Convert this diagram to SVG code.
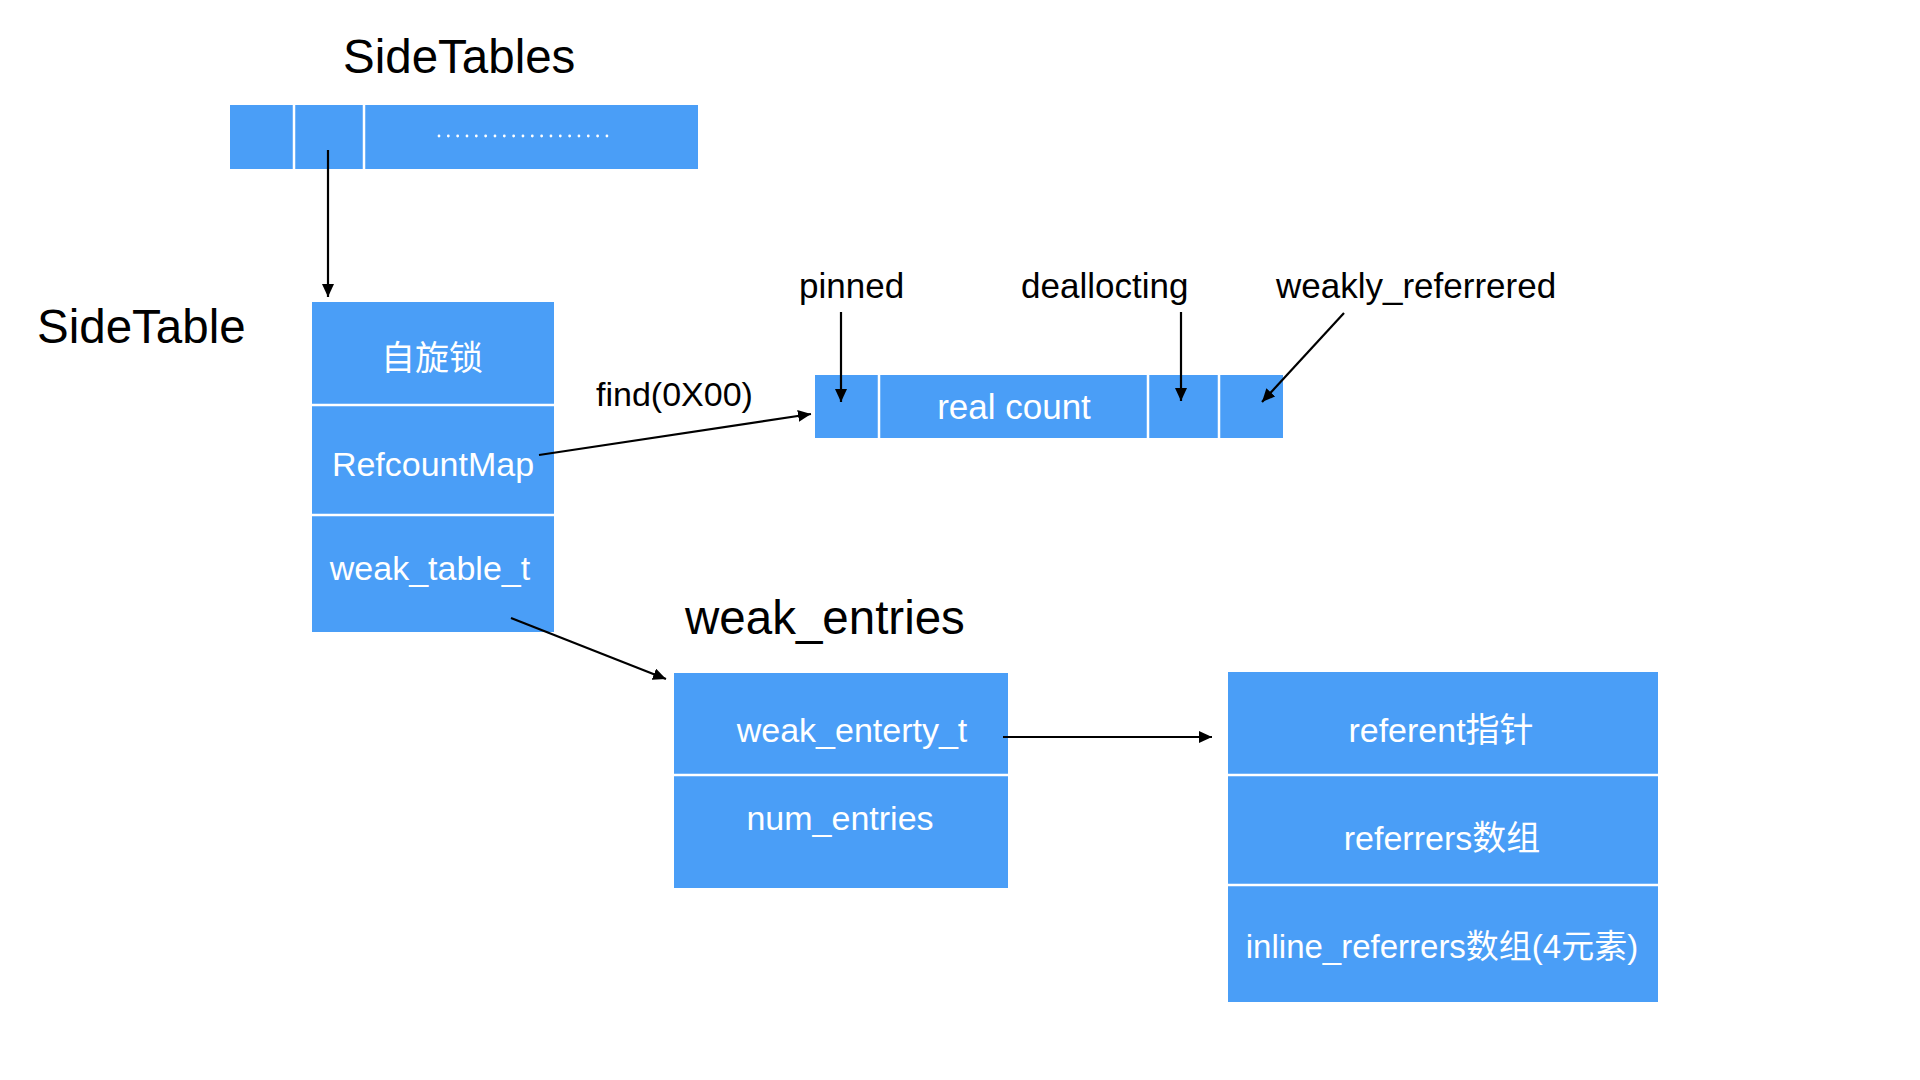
<svg xmlns="http://www.w3.org/2000/svg" width="1920" height="1080" viewBox="0 0 1920 1080">
  <style>
    .cell { fill: #4A9EF7; }
    .div { stroke: #FFFFFF; stroke-width: 2.5; }
    .title { font-family: "Liberation Sans", Arial, sans-serif; font-size: 47.5px; fill: #000000; }
    .lbl { font-family: "Liberation Sans", Arial, sans-serif; font-size: 35px; fill: #000000; }
    .in { font-family: "Liberation Sans", "Noto Sans CJK SC", sans-serif; font-size: 34px; fill: #FFFFFF; text-anchor: middle; }
    .conn { stroke: #000000; stroke-width: 2.2; fill: none; marker-end: url(#arrow); }
  </style>
  <defs>
    <marker id="arrow" markerUnits="userSpaceOnUse" markerWidth="14" markerHeight="12" refX="13" refY="6" orient="auto">
      <path d="M0,0 L13,6 L0,12 Z" fill="#000000"/>
    </marker>
  </defs>
  <rect width="1920" height="1080" fill="#FFFFFF"/>

  <g id="sidetables">
    <text class="title" x="343" y="73">SideTables</text>
    <rect class="cell" x="230" y="105" width="468" height="64"/>
    <line class="div" x1="294" y1="105" x2="294" y2="169"/>
    <line class="div" x1="364" y1="105" x2="364" y2="169"/>
    <line x1="439" y1="136" x2="607" y2="136" stroke="#FFFFFF" stroke-width="2.8" stroke-linecap="round" stroke-dasharray="0 9.33"/>
  </g>

  <g id="sidetable">
    <text class="title" x="37" y="343">SideTable</text>
    <rect class="cell" x="312" y="302" width="242" height="330"/>
    <line class="div" x1="312" y1="405" x2="554" y2="405"/>
    <line class="div" x1="312" y1="515" x2="554" y2="515"/>
    <text class="in" x="432" y="370">自旋锁</text>
    <text class="in" x="433" y="476">RefcountMap</text>
    <text class="in" x="430" y="580">weak_table_t</text>
  </g>

  <g id="refcount">
    <rect class="cell" x="815" y="375" width="468" height="63"/>
    <line class="div" x1="879" y1="375" x2="879" y2="438"/>
    <line class="div" x1="1148" y1="375" x2="1148" y2="438"/>
    <line class="div" x1="1219" y1="375" x2="1219" y2="438"/>
    <text class="in" x="1014" y="419" style="font-size:35px">real count</text>
    <text class="lbl" x="799" y="298">pinned</text>
    <text class="lbl" x="1021" y="298">deallocting</text>
    <text class="lbl" x="1276" y="298">weakly_referrered</text>
  </g>

  <g id="weak_entries">
    <text class="title" x="685" y="634">weak_entries</text>
    <rect class="cell" x="674" y="673" width="334" height="215"/>
    <line class="div" x1="674" y1="775" x2="1008" y2="775"/>
    <text class="in" x="852" y="742">weak_enterty_t</text>
    <text class="in" x="840" y="830">num_entries</text>
  </g>

  <g id="weak_entry">
    <rect class="cell" x="1228" y="672" width="430" height="330"/>
    <line class="div" x1="1228" y1="775" x2="1658" y2="775"/>
    <line class="div" x1="1228" y1="885" x2="1658" y2="885"/>
    <text class="in" x="1441" y="742">referent指针</text>
    <text class="in" x="1442" y="850">referrers数组</text>
    <text class="in" x="1442" y="958" style="font-size:33px">inline_referrers数组(4元素)</text>
  </g>

  <g id="connectors">
    <line class="conn" x1="328" y1="150" x2="328" y2="297"/>
    <line class="conn" x1="539" y1="455" x2="811" y2="414"/>
    <text class="lbl" x="596" y="406" style="font-size:34px">find(0X00)</text>
    <line class="conn" x1="511" y1="618" x2="666" y2="679"/>
    <line class="conn" x1="841" y1="312" x2="841" y2="402"/>
    <line class="conn" x1="1181" y1="312" x2="1181" y2="401"/>
    <line class="conn" x1="1344" y1="313" x2="1262" y2="402"/>
    <line class="conn" x1="1003" y1="737" x2="1212" y2="737"/>
  </g>
</svg>
